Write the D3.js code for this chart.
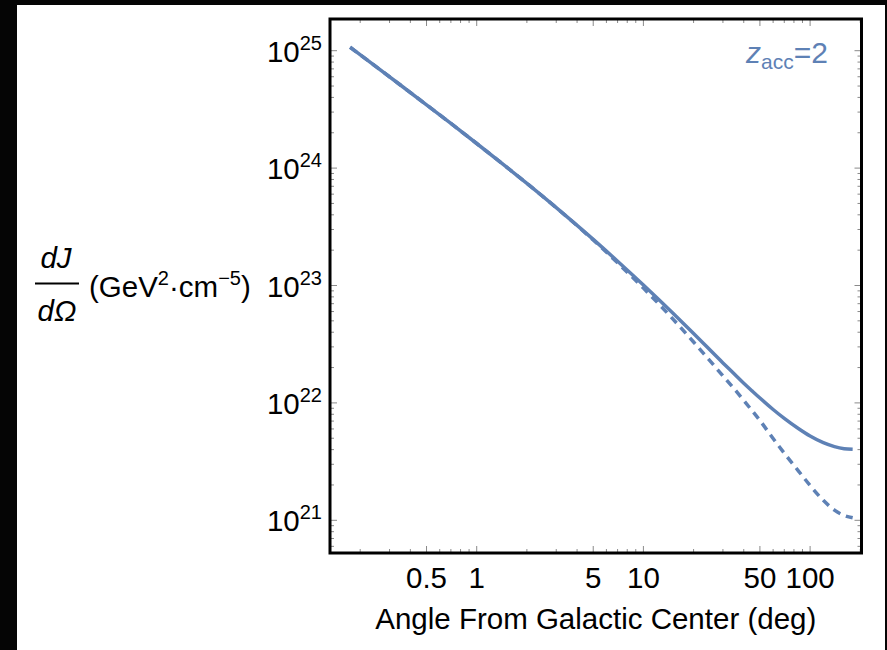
<!DOCTYPE html>
<html>
<head>
<meta charset="utf-8">
<script src="https://cdn.jsdelivr.net/npm/d3@7"></script>
<style>
  html, body { margin: 0; padding: 0; background: #fff; }
  svg { display: block; }
  text { font-family: "Liberation Sans", Arial, sans-serif; fill: #000; }
</style>
</head>
<body>
<svg id="chart" width="887" height="650"></svg>
<script>
// Angle from the Galactic Center (deg)
const angles = [0.174, 0.25, 0.35, 0.5, 0.7, 1, 1.5, 2, 3, 5, 7, 10, 15, 20, 30, 35, 40, 45, 50, 60, 70, 85, 100, 120, 140, 160, 180];
// dJ/dΩ (GeV^2 cm^-5), solid curve
const jSolid = [1.07e25, 7.28e24, 5.08e24, 3.46e24, 2.40e24, 1.62e24, 1.028e24, 7.41e23, 4.61e23, 2.47e23, 1.61e23, 1.01e23,
                5.83e22, 3.90e22, 2.19e22, 1.77e22, 1.47e22, 1.26e22, 1.10e22, 8.79e21, 7.38e21, 6.05e21, 5.22e21, 4.58e21, 4.24e21, 4.07e21, 4.02e21];
// dJ/dΩ (GeV^2 cm^-5), dashed curve
const jDashed = [1.07e25, 7.28e24, 5.08e24, 3.46e24, 2.40e24, 1.62e24, 1.028e24, 7.41e23, 4.60e23, 2.44e23, 1.56e23, 9.5e22,
                 5.2e22, 3.30e22, 1.70e22, 1.32e22, 1.05e22, 8.55e21, 7.08e21, 4.97e21, 3.73e21, 2.64e21, 1.98e21, 1.48e21, 1.22e21, 1.10e21, 1.05e21];

const xMajorTicks = [0.5, 1, 5, 10, 50, 100];
const xTickLabels = ["0.5", "1", "5", "10", "50", "100"];
const yMajorExps = [21, 22, 23, 24, 25];

const lineColor = "#5E81B5";
const fs = 29.5, fsSup = 20;

const svg = d3.select("#chart");
const W = 887, H = 650;

// page frame: dark band at left, top and right edges
svg.append("rect").attr("x", 0).attr("y", 0).attr("width", W).attr("height", H).attr("fill", "#050505");
svg.append("rect").attr("x", 17).attr("y", 5).attr("width", 868).attr("height", H - 5).attr("fill", "#fff");

const plot = { left: 330, right: 861.5, top: 19, bottom: 553 };

const x = d3.scaleLog().domain([0.1318, 203.4]).range([plot.left, plot.right]);
const y = d3.scaleLog().domain([Math.pow(10, 20.7215), Math.pow(10, 25.270)]).range([plot.bottom, plot.top]);

// minor tick positions
const xMinor = [];
[0.1, 1, 10, 100].forEach(d => { for (let k = 1; k <= 9; k++) { const v = d * k; if (v > 0.1318 && v < 203.4) xMinor.push(v); } });
const yMinor = [];
[20, 21, 22, 23, 24, 25].forEach(e => { for (let k = 1; k <= 9; k++) { const v = k * Math.pow(10, e); if (v > y.domain()[0] && v < y.domain()[1]) yMinor.push(v); } });

const tickColor = "#8a8a8a";
const g = svg.append("g");

function isMajorX(v) { return xMajorTicks.some(t => Math.abs(t - v) / t < 1e-6); }
function isMajorY(v) { return yMajorExps.some(e => Math.abs(v / Math.pow(10, e) - 1) < 1e-6); }

// ticks on bottom and top, pointing inward
xMinor.forEach(v => {
  const len = isMajorX(v) ? 7 : 4;
  const px = x(v);
  g.append("line").attr("x1", px).attr("x2", px).attr("y1", plot.bottom).attr("y2", plot.bottom - len)
    .attr("stroke", tickColor).attr("stroke-width", 1);
  g.append("line").attr("x1", px).attr("x2", px).attr("y1", plot.top).attr("y2", plot.top + len)
    .attr("stroke", tickColor).attr("stroke-width", 1);
});
// ticks on left and right
yMinor.forEach(v => {
  const len = isMajorY(v) ? 7 : 4;
  const py = y(v);
  g.append("line").attr("y1", py).attr("y2", py).attr("x1", plot.left).attr("x2", plot.left + len)
    .attr("stroke", tickColor).attr("stroke-width", 1);
  g.append("line").attr("y1", py).attr("y2", py).attr("x1", plot.right).attr("x2", plot.right - len)
    .attr("stroke", tickColor).attr("stroke-width", 1);
});

// curves
const pts = arr => angles.map((a, i) => [a, arr[i]]);
const line = d3.line().x(d => x(d[0])).y(d => y(d[1])).curve(d3.curveMonotoneX);

svg.append("clipPath").attr("id", "clip").append("rect")
  .attr("x", plot.left).attr("y", plot.top).attr("width", plot.right - plot.left).attr("height", plot.bottom - plot.top);

svg.append("path").datum(pts(jDashed)).attr("d", line).attr("fill", "none")
  .attr("stroke", lineColor).attr("stroke-width", 3.5).attr("stroke-dasharray", "8,6")
  .attr("clip-path", "url(#clip)");
svg.append("path").datum(pts(jSolid)).attr("d", line).attr("fill", "none")
  .attr("stroke", lineColor).attr("stroke-width", 3.5)
  .attr("clip-path", "url(#clip)");

// frame
svg.append("rect").attr("x", plot.left).attr("y", plot.top)
  .attr("width", plot.right - plot.left).attr("height", plot.bottom - plot.top)
  .attr("fill", "none").attr("stroke", "#000").attr("stroke-width", 3);

// x tick labels
xMajorTicks.forEach((v, i) => {
  svg.append("text").attr("x", x(v)).attr("y", 588).attr("text-anchor", "middle")
    .attr("font-size", fs).text(xTickLabels[i]);
});

// y tick labels 10^n
yMajorExps.forEach(e => {
  const t = svg.append("text").attr("x", 322).attr("y", y(Math.pow(10, e)) + 11)
    .attr("text-anchor", "end").attr("font-size", fs);
  t.append("tspan").text("10");
  t.append("tspan").attr("font-size", fsSup).attr("dy", -12).text(String(e));
});

// x axis title
svg.append("text").attr("x", (plot.left + plot.right) / 2).attr("y", 629)
  .attr("text-anchor", "middle").attr("font-size", fs).text("Angle From Galactic Center (deg)");

// y axis title: dJ/dΩ (GeV²·cm⁻⁵)
svg.append("text").attr("x", 56).attr("y", 268).attr("text-anchor", "middle")
  .attr("font-size", fs).attr("font-style", "italic").text("dJ");
svg.append("line").attr("x1", 35).attr("x2", 79).attr("y1", 283.5).attr("y2", 283.5)
  .attr("stroke", "#000").attr("stroke-width", 2);
svg.append("text").attr("x", 57).attr("y", 321).attr("text-anchor", "middle")
  .attr("font-size", fs).attr("font-style", "italic").text("dΩ");
const unit = svg.append("text").attr("x", 89).attr("y", 297).attr("font-size", fs);
unit.append("tspan").text("(GeV");
unit.append("tspan").attr("font-size", fsSup).attr("dy", -12).text("2");
unit.append("tspan").attr("dy", 12).text("·cm");
unit.append("tspan").attr("font-size", fsSup).attr("dy", -12).text("−5");
unit.append("tspan").attr("dy", 12).text(")");

// annotation
const ann = svg.append("text").attr("x", 828).attr("y", 63).attr("text-anchor", "end")
  .attr("font-size", 30).style("fill", lineColor);
ann.append("tspan").attr("font-style", "italic").text("z");
ann.append("tspan").attr("font-size", 21).attr("dy", 6).text("acc");
ann.append("tspan").attr("dy", -6).text("=2");
</script>
</body>
</html>
